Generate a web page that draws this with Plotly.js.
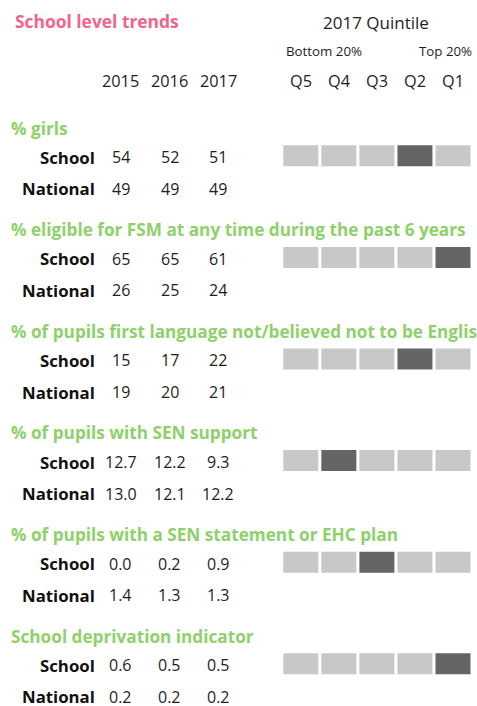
<!DOCTYPE html>
<html>
<head>
<meta charset="utf-8">
<script src="https://cdn.plot.ly/plotly-3.0.1.min.js"></script>
<style>html,body{margin:0;padding:0;background:#fff;}#chart{width:477px;height:706px;}</style>
</head>
<body>
<div id="chart"></div>
<script>
// ---- data ----
const years = ['2015', '2016', '2017'];
const quintiles = ['Q5', 'Q4', 'Q3', 'Q2', 'Q1'];
const indicators = [
  '% girls',
  '% eligible for FSM at any time during the past 6 years',
  '% of pupils first language not/believed not to be English',
  '% of pupils with SEN support',
  '% of pupils with a SEN statement or EHC plan',
  'School deprivation indicator'
];
const schoolValues = [
  [54, 52, 51],
  [65, 65, 61],
  [15, 17, 22],
  [12.7, 12.2, 9.3],
  [0.0, 0.2, 0.9],
  [0.6, 0.5, 0.5]
];
const nationalValues = [
  [49, 49, 49],
  [26, 25, 24],
  [19, 20, 21],
  [13.0, 12.1, 12.2],
  [1.4, 1.3, 1.3],
  [0.2, 0.2, 0.2]
];
const decimals = [0, 0, 0, 1, 1, 1];
const schoolQuintile = ['Q2', 'Q1', 'Q2', 'Q4', 'Q3', 'Q1'];
const rowLabels = ['School', 'National'];

// ---- layout constants (pixel space) ----
const FONT = '"Open Sans", "Noto Sans", sans-serif';
const PINK = '#F0648F';
const GREEN = '#8ED16B';
const LIGHT = '#C8C8C8';
const DARK = '#656565';
const INK = '#1e1e1e';
const sec0 = 128, pitch = 101.6;
const schoolOff = 29.2, natOff = 60.8, cellOff = 27.8;
const yearX = [120.5, 169.5, 218];
const q0 = 300.8, qStep = 38.05;
const cellW = 35, cellH = 21;
const labelRight = 96.5;

const annotations = [];
function ann(text, x, y, opts) {
  annotations.push(Object.assign({
    text: text, x: x, y: y, xref: 'x', yref: 'y', showarrow: false,
    xanchor: 'center', yanchor: 'middle',
    font: {family: FONT, size: 16, color: INK}
  }, opts || {}));
}

ann('<b>School level trends</b>', 13, 20.5, {xanchor: 'left', font: {family: FONT, size: 17.4, color: PINK}});
ann('2017 Quintile', 376, 22.5, {font: {family: FONT, size: 17, color: INK}});
ann('Bottom 20%', 284, 50.5, {xanchor: 'left', font: {family: FONT, size: 13.3, color: INK}});
ann('Top 20%', 473.5, 50.5, {xanchor: 'right', font: {family: FONT, size: 13.3, color: INK}});
years.forEach((yr, j) => ann(yr, yearX[j], 80.5, {font: {family: FONT, size: 16.3, color: INK}}));
quintiles.forEach((q, i) => ann(q, q0 + i * qStep, 80.5, {font: {family: FONT, size: 16.3, color: INK}}));

const barX = [], barBase = [], barY = [], barColor = [];
indicators.forEach((name, k) => {
  const y0 = sec0 + k * pitch;
  ann('<b>' + name + '</b>', 9, y0, {xanchor: 'left', font: {family: FONT, size: 17.2, color: GREEN}});
  [schoolValues[k], nationalValues[k]].forEach((vals, r) => {
    const yy = y0 + (r === 0 ? schoolOff : natOff);
    ann('<b>' + rowLabels[r] + '</b>', labelRight, yy, {xanchor: 'right', font: {family: FONT, size: 16.8, color: '#111'}});
    vals.forEach((v, j) => ann(v.toFixed(decimals[k]), yearX[j], yy, {font: {family: FONT, size: 16, color: INK}}));
  });
  quintiles.forEach((q, i) => {
    barX.push(q0 + i * qStep);
    barBase.push(y0 + cellOff - cellH / 2);
    barY.push(cellH);
    barColor.push(q === schoolQuintile[k] ? DARK : LIGHT);
  });
});

const traces = [{
  type: 'bar', x: barX, y: barY, base: barBase, width: cellW,
  marker: {color: barColor, line: {width: 0}}, hoverinfo: 'skip'
}];

const layout = {
  width: 477, height: 706,
  margin: {l: 0, r: 0, t: 0, b: 0, pad: 0},
  paper_bgcolor: '#fff', plot_bgcolor: '#fff',
  showlegend: false,
  xaxis: {range: [0, 477], visible: false, fixedrange: true},
  yaxis: {range: [706, 0], visible: false, fixedrange: true},
  annotations: annotations,
  font: {family: FONT}
};

Plotly.newPlot('chart', traces, layout, {staticPlot: true, displayModeBar: false});
</script>
</body>
</html>
